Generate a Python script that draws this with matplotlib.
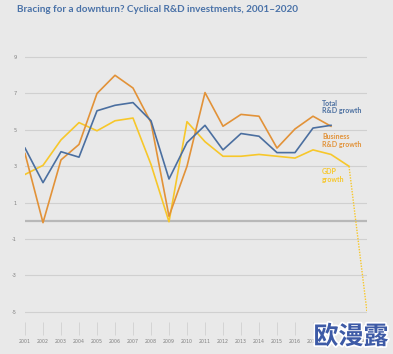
import matplotlib.pyplot as plt
import matplotlib.patheffects as pe

years = list(range(2001, 2021))
total_rd = [4.0, 2.1, 3.8, 3.5, 6.05, 6.35, 6.5, 5.5, 2.3, 4.3, 5.25, 3.9, 4.8, 4.65,
            3.75, 3.75, 5.1, 5.25]
business_rd = [3.7, -0.1, 3.35, 4.2, 7.0, 8.0, 7.3, 5.4, 0.25, 3.0, 7.05, 5.2, 5.85, 5.75,
               4.0, 5.05, 5.75, 5.2]
gdp = [2.55, 3.05, 4.45, 5.4, 4.95, 5.5, 5.65, 3.1, -0.05, 5.45, 4.35, 3.55, 3.55, 3.65,
       3.55, 3.45, 3.9, 3.65, 3.0]
gdp_forecast = [3.0, -5.0]
yticks = [9, 7, 5, 3, 1, -1, -3, -5]

BLUE = "#4b6fa0"
ORANGE = "#e29238"
YELLOW = "#f7c72a"
BG = "#e9e9e9"

W, H = 393, 354
fig = plt.figure(figsize=(W / 100, H / 100), dpi=100, facecolor=BG)
ax = fig.add_axes([25 / W, 1 - 322 / H, (367 - 25) / W, (322 - 48) / H])
ax.set_facecolor(BG)

ax.set_xlim(2001, 2020)
ax.set_ylim(-5.56, 9.5)

for v in yticks:
    ax.axhline(v, color="#d0d0d0", lw=0.8, zorder=1)
ax.axhline(0, color="#b8b8b8", lw=1.6, zorder=1)

ax.plot(years[:len(gdp)], gdp, color=YELLOW, lw=1.2, zorder=3)
ax.plot(years[18:20], gdp_forecast, color=YELLOW, lw=1.0, ls=(0, (1, 1)), zorder=3)
ax.plot(years[:len(business_rd)], business_rd, color=ORANGE, lw=1.2, zorder=4)
ax.plot(years[:len(total_rd)], total_rd, color=BLUE, lw=1.2, zorder=5)

# series labels next to the line ends
lab = dict(fontsize=5.0, fontweight="bold", family="Lato", ha="left", linespacing=1.15)
ax.text(2017.5, 5.85, "Total\nR&D growth", color=BLUE, va="bottom", **lab)
ax.text(2017.5, 4.85, "Business\nR&D growth", color=ORANGE, va="top", **lab)
ax.text(2017.5, 2.9, "GDP\ngrowth", color=YELLOW, va="top", **lab)

ax.set_yticks(yticks)
ax.set_yticklabels([str(v) for v in yticks])
ax.set_xticks(years)
ax.set_xticklabels([str(y) for y in years])
ax.tick_params(axis="y", length=0, pad=6, labelsize=3.6, labelcolor="#808080")
ax.tick_params(axis="x", length=9, width=0.6, color="#d0d0d0", pad=3,
               labelsize=3.4, labelcolor="#808080")
for s in ax.spines.values():
    s.set_visible(False)

fig.text(17 / W, 1 - 9 / H, "Bracing for a downturn? Cyclical R&D investments, 2001\u20132020",
         color="#4a72a8", fontsize=7.2, fontweight="bold", family="Lato",
         va="center", ha="left")

fig.text(351 / W, 1 - 337 / H, "欧漫露", color="#3d5aa6", fontsize=18,
         fontweight="bold", family=["Noto Sans CJK SC", "DejaVu Sans"],
         ha="center", va="center",
         path_effects=[pe.withStroke(linewidth=2.5, foreground="white")])

fig.savefig("out.png", dpi=100, facecolor=BG)
